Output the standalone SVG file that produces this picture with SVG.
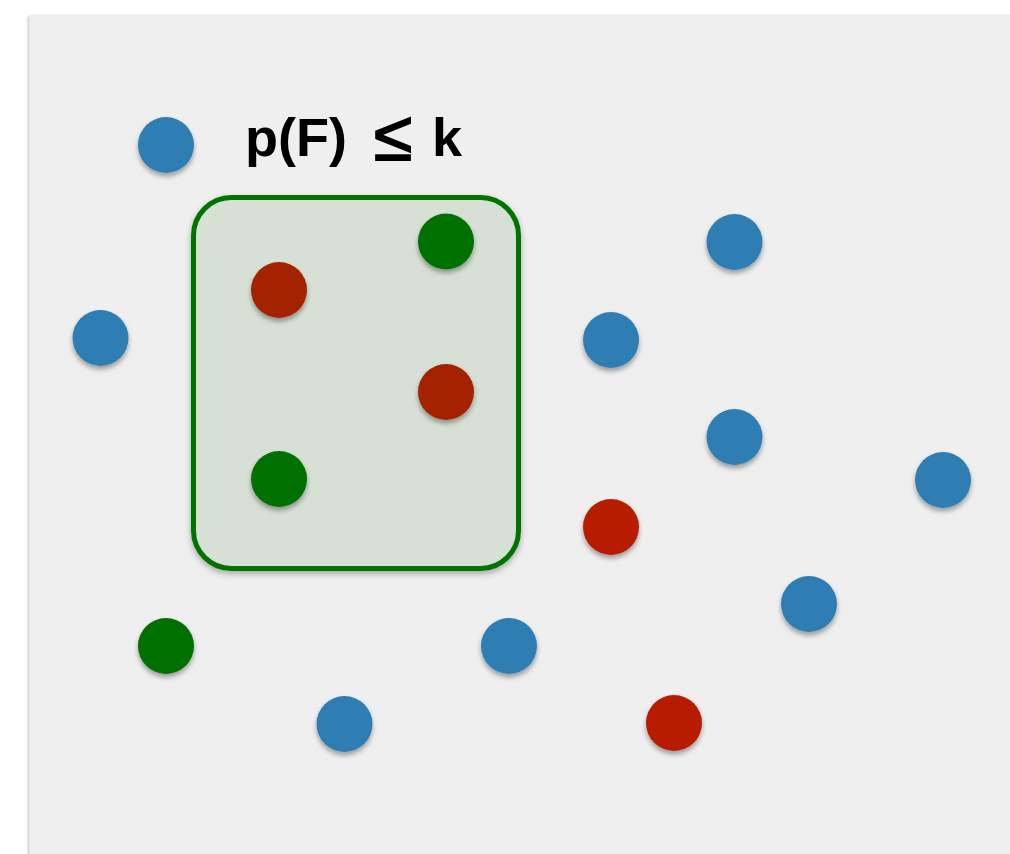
<svg xmlns="http://www.w3.org/2000/svg" width="1010" height="854" viewBox="0 0 1010 854">
  <defs>
    <filter id="dotShadow" x="-40%" y="-40%" width="180%" height="190%">
      <feDropShadow dx="0" dy="3.5" stdDeviation="2.5" flood-color="#000" flood-opacity="0.35"/>
    </filter>
    <filter id="boxShadow" x="-10%" y="-10%" width="120%" height="120%">
      <feDropShadow dx="0" dy="3" stdDeviation="3" flood-color="#000" flood-opacity="0.3"/>
    </filter>
    <filter id="panelShadow" x="-5%" y="-5%" width="110%" height="110%">
      <feDropShadow dx="-1" dy="0" stdDeviation="1.5" flood-color="#000" flood-opacity="0.3"/>
    </filter>
  </defs>
  <style>
    .dot { filter: url(#dotShadow); }
    .blue { fill: #2f7db3; }
    .green { fill: #017001; }
    .red { fill: #b81c00; }
    .red-in { fill: #a42400; }
    .label { font-family: "Liberation Sans", Arial, sans-serif; font-weight: bold; font-size: 54px; fill: #000; }
    .rel { font-size: 70px; font-weight: normal; stroke: #000; stroke-width: 1.8; }
  </style>

  <rect width="1010" height="854" fill="#ffffff"/>
  <!-- paper panel -->
  <rect id="panel" x="29.5" y="16.5" width="1000" height="860" fill="#efefef" filter="url(#panelShadow)"/>

  <!-- selection region F -->
  <g id="region-F">
    <rect x="193.5" y="197.5" width="325" height="371" rx="38" ry="38" fill="#d6e0d4" stroke="#067306" stroke-width="5" filter="url(#boxShadow)"/>
    <text class="label" y="156"><tspan x="245">p(F)</tspan><tspan class="rel" x="374" y="160">≤</tspan><tspan x="432" y="156">k</tspan></text>
  </g>

  <!-- points -->
  <g id="b1" class="dot"><circle class="blue" cx="166" cy="145" r="28"/></g>
  <g id="b2" class="dot"><circle class="blue" cx="100.5" cy="338" r="28"/></g>
  <g id="b3" class="dot"><circle class="blue" cx="734.5" cy="242" r="28"/></g>
  <g id="b4" class="dot"><circle class="blue" cx="611" cy="340" r="28"/></g>
  <g id="b5" class="dot"><circle class="blue" cx="734.5" cy="437" r="28"/></g>
  <g id="b6" class="dot"><circle class="blue" cx="943" cy="480" r="28"/></g>
  <g id="b7" class="dot"><circle class="blue" cx="809" cy="604" r="28"/></g>
  <g id="b8" class="dot"><circle class="blue" cx="509" cy="646" r="28"/></g>
  <g id="b9" class="dot"><circle class="blue" cx="344.5" cy="724" r="28"/></g>

  <g id="g1" class="dot"><circle class="green" cx="446" cy="241.5" r="28"/></g>
  <g id="g2" class="dot"><circle class="green" cx="279" cy="479" r="28"/></g>
  <g id="g3" class="dot"><circle class="green" cx="166" cy="646" r="28"/></g>

  <g id="r1" class="dot"><circle class="red-in" cx="279" cy="290" r="28"/></g>
  <g id="r2" class="dot"><circle class="red-in" cx="446" cy="392" r="28"/></g>
  <g id="r3" class="dot"><circle class="red" cx="611" cy="527" r="28"/></g>
  <g id="r4" class="dot"><circle class="red" cx="674" cy="723" r="28"/></g>
</svg>
